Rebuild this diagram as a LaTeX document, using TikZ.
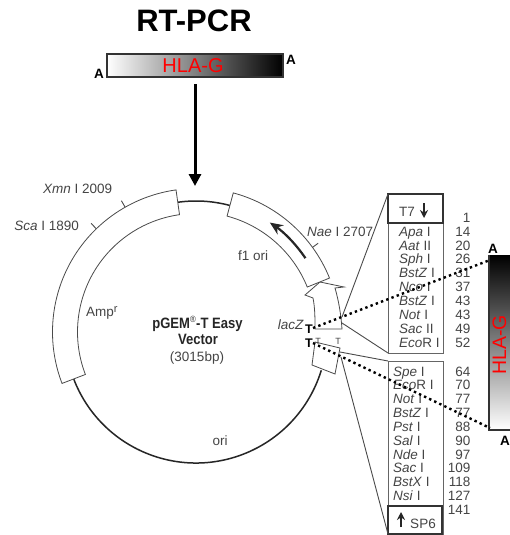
\documentclass[tikz,border=0pt]{standalone}
\usepackage{fontspec}
\usepackage{graphicx}
\setmainfont{Liberation Sans}
\usetikzlibrary{arrows.meta}
\definecolor{txt}{HTML}{454545}
\definecolor{ink}{HTML}{4A4A4A}
\definecolor{barline}{HTML}{333333}
\tikzset{
  lab/.style={text=txt,inner sep=0pt,text height=9.7pt,text depth=0pt,font=\fontsize{13.5}{14}\selectfont},
  bandline/.style={draw=ink,line width=0.8pt,fill=white},
  backbone/.style={draw=black!85,line width=1.5pt},
  boxline/.style={draw=ink!85,line width=1pt},
  heavybox/.style={draw=barline,line width=1.5pt},
  leader/.style={draw=ink,line width=0.9pt},
  endmark/.style={text=black,inner sep=0pt,font=\bfseries\fontsize{13.5}{14}\selectfont},
  dots/.style={draw=black,line width=2.4pt,dash pattern=on 2.4pt off 3.2pt},
  redlabel/.style={text=red,inner sep=0pt,font=\fontsize{20}{22}\selectfont},
}
\begin{document}
\begin{tikzpicture}[x=1pt,y=-1pt]
\useasboundingbox[fill=white] (0,0) rectangle (510,535);
% title and insert
\node[inner sep=0pt,font=\bfseries\fontsize{31}{33}\selectfont] (title) at (194,21) {RT-PCR};
\path[left color=white,right color=black,draw=barline,line width=1.2pt] (107,54) rectangle (283,77);
\node[redlabel] (hla) at (193,66) {HLA-G};
\node[endmark] (aleft) at (99,74) {A};
\node[endmark] (aright) at (291,60) {A};
\coordinate (shaftTop) at (195,84);
\coordinate (shaftEnd) at (195,186);
\draw[line width=3pt,-{Triangle[length=12pt,width=12pt]}] (shaftTop) -- (shaftEnd);
% lacZ block (under the f1 band)
\draw[bandline] (315,329) .. controls (315,318) and (315,308) .. (313,298) -- (305,295) -- (320,282) -- (344,287) -- (335,288)
   .. controls (339,302) and (341,315) .. (342,329) -- cycle;
% plasmid
\begin{scope}[shift={(196,332)},y=1pt]
  \draw[backbone] (98:131pt) arc[start angle=98,end angle=75,radius=131pt];
  \draw[backbone] (201:131pt) arc[start angle=201,end angle=343,radius=131pt];
  \draw[bandline] (98:143.5pt) arc[start angle=98,end angle=201,radius=143.5pt]
     -- (201:118.5pt) arc[start angle=201,end angle=98,radius=118.5pt] -- cycle;
  \draw[bandline] (75:144pt) arc[start angle=75,end angle=22,radius=144pt]
     -- (22:120pt) arc[start angle=22,end angle=75,radius=120pt] -- cycle;
  \draw[line width=2.2pt,draw=black!85,-{Stealth[length=13pt,width=11pt]}] (34:132pt) arc[start angle=34,end angle=56,radius=132pt];
  \draw[leader] (119.6:143.5pt) -- (119.6:151pt);
  \draw[leader] (134:143.5pt) -- (134:151pt);
  \draw[leader] (36:144pt) -- (36:151pt);
\end{scope}
% small square and T ticks
\draw[bandline] (315,342) -- (340,348) -- (335,374) -- (312,365) -- cycle;
\node[text=txt,inner sep=0pt,font=\fontsize{9}{10}\selectfont] (tickA) at (318,341) {T};
\node[text=txt,inner sep=0pt,font=\fontsize{9}{10}\selectfont] (tickB) at (338,341) {T};
% site boxes
\draw[boxline] (388,194) rectangle (443,353);
\draw[heavybox] (388,194) rectangle (443,223);
\draw[boxline] (388,361) rectangle (443,534);
\draw[heavybox] (388,506) rectangle (442,534);
% leaders
\coordinate (lacTop) at (342,317);
\coordinate (lacBot) at (342,323);
\coordinate (sqTop) at (340,352);
\coordinate (sqBot) at (341,357);
\coordinate (boxA) at (388,194);
\coordinate (boxB) at (388,353);
\coordinate (boxC) at (388,361);
\coordinate (boxD) at (388,534);
\draw[leader] (lacTop) -- (boxA);
\draw[leader] (lacBot) -- (boxB);
\draw[leader] (sqTop) -- (boxC);
\draw[leader] (sqBot) -- (boxD);
% T7 / SP6
\node[lab,anchor=west] (t7) at (399,212) {T7};
\draw[line width=2.2pt,draw=black!85,-{Stealth[length=8pt,width=8pt]}] (424,203) -- (424,218);
\node[lab] (sp6) at (423,524) {SP6};
\draw[line width=2.2pt,draw=black!85,-{Stealth[length=8pt,width=8pt]}] (401,527) -- (401,512);
% site lists
\foreach \name/\yy in {{\textit{Apa} I}/232,{\textit{Aat} II}/246,{\textit{Sph} I}/259,{\textit{BstZ} I}/273,{\textit{Nco} I}/287,{\textit{BstZ} I}/301,{\textit{Not} I}/315,{\textit{Sac} II}/329,{\textit{Eco}R I}/343}
  \node[lab,anchor=west] at (399,\yy) {\name};
\foreach \name/\yy in {{\textit{Spe} I}/372,{\textit{Eco}R I}/385,{\textit{Not} I}/399,{\textit{BstZ} I}/413,{\textit{Pst} I}/427,{\textit{Sal} I}/441,{\textit{Nde} I}/455,{\textit{Sac} I}/468,{\textit{BstX} I}/482,{\textit{Nsi} I}/496}
  \node[lab,anchor=west] at (393,\yy) {\name};
\foreach \num/\yy in {1/218,14/232,20/246,26/259,31/273,37/287,43/301,43/315,49/329,52/343,64/372,70/385,77/399,77/413,88/427,90/441,97/455,109/468,118/482,127/496,141/510}
  \node[lab,anchor=east] at (470.5,\yy) {\num};
% plasmid labels
\node[lab,anchor=west] (xmn) at (43,189) {\textit{Xmn} I 2009};
\node[lab,anchor=east] (sca) at (79,226) {\textit{Sca} I 1890};
\node[lab,anchor=west] (amp) at (86,312) {Amp\raisebox{4.5pt}{\fontsize{11}{11}\selectfont r}};
\node[lab,anchor=west] (f1) at (238,256) {f1 ori};
\node[lab,anchor=west] (nae) at (307,232) {\textit{Nae} I 2707};
\node[lab,anchor=east] (lac) at (304,325) {\textit{lacZ}};
\node[lab] (ori) at (220,441) {ori};
\node[inner sep=0pt,text=black!85,font=\bfseries\fontsize{15}{16}\selectfont] (pgem) at (197.5,324) {\scalebox{0.87}[1]{pGEM\textsuperscript{\fontsize{9}{9}\selectfont\textmd{®}}-T Easy}};
\node[inner sep=0pt,text=black!85,font=\bfseries\fontsize{15}{16}\selectfont] (vec) at (198,339) {\scalebox{0.87}[1]{Vector}};
\node[lab] (bp) at (197,357) {(3015bp)};
% right insert
\path[top color=black,bottom color=white] (489,255) rectangle (510,430);
\draw[draw=barline,line width=1.2pt] (510,430) -- (489,430) -- (489,255);
\node[redlabel,rotate=90,font=\fontsize{19.5}{21}\selectfont] (hlaV) at (499.5,345) {HLA-G};
\node[endmark] (atop) at (493,249) {A};
\node[endmark] (abot) at (505,441) {A};
\coordinate (barTop) at (490,260);
\coordinate (barBot) at (490,428);
% T marks and dotted connectors
\node[endmark,font=\bfseries\fontsize{12.5}{13}\selectfont] (tU) at (309,329) {T};
\node[endmark,font=\bfseries\fontsize{12.5}{13}\selectfont] (tL) at (309,343) {T};
\coordinate (tUr) at (313,328);
\coordinate (tLr) at (313,343);
\draw[dots] (tUr) -- (barTop);
\draw[dots] (tLr) -- (barBot);
\end{tikzpicture}
\end{document}
